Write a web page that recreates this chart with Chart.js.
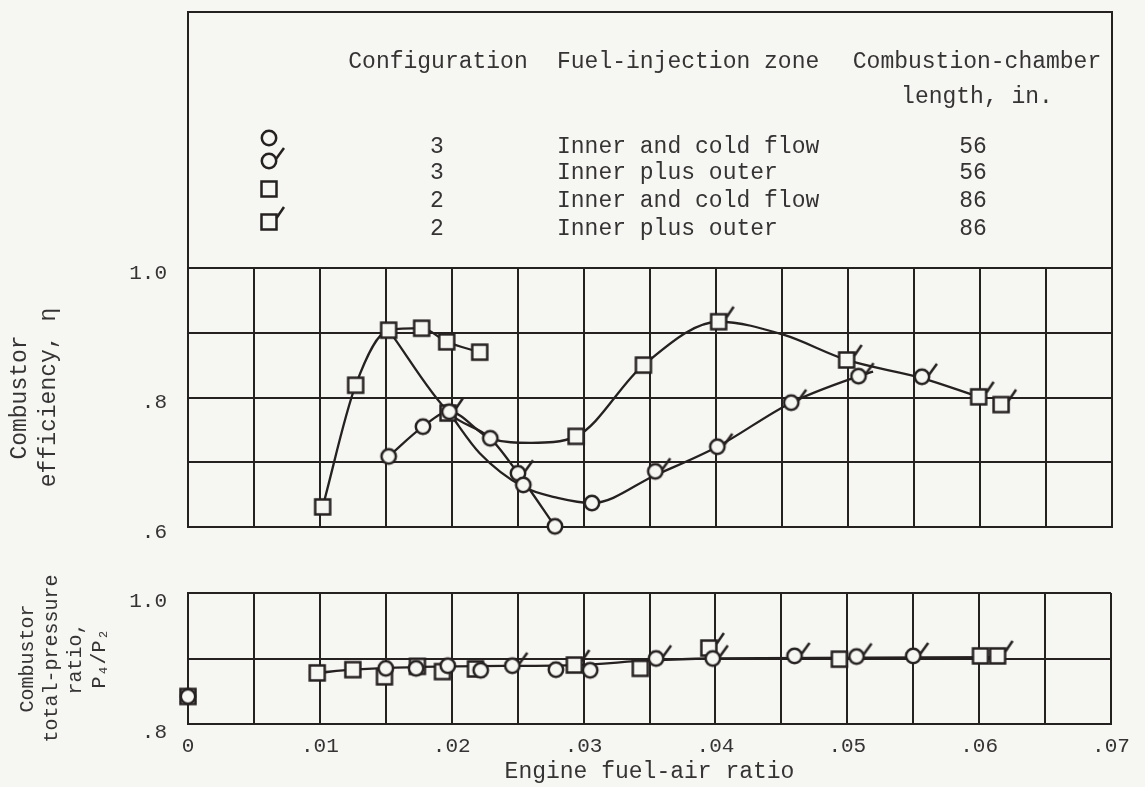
<!DOCTYPE html>
<html>
<head>
<meta charset="utf-8">
<script src="https://cdn.jsdelivr.net/npm/chart.js@4.4.1/dist/chart.umd.min.js"></script>
<style>
  html, body { margin: 0; padding: 0; background: #f6f6f3; }
  #wrap { position: relative; width: 1145px; height: 787px; }
  canvas { position: absolute; left: 0; }
  #effChart { top: 0; }
  #presChart { top: 550px; }
</style>
</head>
<body>
<div id="wrap">
  <canvas id="effChart" width="1145" height="550"></canvas>
  <canvas id="presChart" width="1145" height="237"></canvas>
</div>
<script>
// ---- data: [fuel-air ratio, value] ----
// combustor efficiency
const effCircle     = [[.0152,.709],[.0178,.755],[.0198,.778],[.0229,.737],[.0254,.665],[.0278,.601],[.0306,.637]];
const effCircleFlag = [[.0250,.683],[.0354,.686],[.0401,.724],[.0457,.792],[.0508,.833],[.0556,.832]];
const effSquare     = [[.0102,.631],[.0127,.819],[.0152,.904],[.0177,.907],[.0196,.886],[.0221,.870],[.0294,.740],[.0345,.850]];
const effSquareFlag = [[.0197,.776],[.0402,.917],[.0499,.858],[.0599,.801],[.0616,.789]];
// faired curves as drawn on the figure
const effCurveA = [[.0102,.631],[.0127,.819],[.0152,.904],[.0177,.907],[.0196,.886],[.0221,.870]];
const effCurveB = [[.0152,.904],[.0198,.776],[.0229,.737],[.0250,.683],[.0278,.601]];
const effCurveC = [[.0152,.709],[.0178,.755],[.0198,.778],[.0229,.737],[.0260,.730],[.0294,.740],[.0345,.850],[.0402,.917],[.0451,.897],[.0499,.858],[.0556,.830],[.0599,.801]];
const effCurveD = [[.0198,.776],[.0221,.714],[.0254,.662],[.0280,.645],[.0306,.637],[.0354,.680],[.0401,.724],[.0457,.792],[.0508,.833],[.0519,.840]];

// total-pressure ratio
const presCircle     = [[0,.842],[.0150,.885],[.0173,.885],[.0197,.889],[.0222,.882],[.0279,.883],[.0305,.882]];
const presCircleFlag = [[.0246,.889],[.0355,.900],[.0398,.900],[.0460,.904],[.0507,.903],[.0550,.904]];
const presSquare     = [[0,.842],[.0098,.878],[.0125,.883],[.0149,.872],[.0174,.888],[.0193,.880],[.0218,.884],[.0343,.885],[.0494,.899],[.0601,.904]];
const presSquareFlag = [[.0293,.890],[.0395,.916],[.0614,.904]];
const presCurve = [[.0098,.878],[.0125,.883],[.0200,.888],[.0293,.890],[.0350,.897],[.0395,.900],[.0614,.902]];

// legend table
const legendConfig = ['3', '3', '2', '2'];
const legendZone = ['Inner and cold flow', 'Inner plus outer', 'Inner and cold flow', 'Inner plus outer'];
const legendLength = ['56', '56', '86', '86'];

const ink = '#262121';
const paper = '#f6f6f3';
const textCol = '#353333';
const mono = "'Liberation Mono', 'DejaVu Sans Mono', monospace";

Chart.defaults.font.family = mono;
Chart.defaults.color = textCol;

// marker glyphs (circle / square, with or without flag)
function makeMarker(shape, flag) {
  const c = document.createElement('canvas');
  c.width = 44; c.height = 44;
  const g = c.getContext('2d');
  g.strokeStyle = ink; g.fillStyle = paper; g.lineWidth = 2.5;
  g.beginPath();
  if (shape === 'circle') g.arc(22, 22, 7.2, 0, Math.PI * 2);
  else g.rect(14.5, 14.5, 15, 15);
  g.fill(); g.stroke();
  if (flag) {
    g.beginPath();
    if (shape === 'circle') { g.moveTo(29, 20); g.lineTo(37, 9); }
    else { g.moveTo(29.5, 18); g.lineTo(37, 7); }
    g.stroke();
  }
  return c;
}
const mCircle = makeMarker('circle', false);
const mCircleFlag = makeMarker('circle', true);
const mSquare = makeMarker('square', false);
const mSquareFlag = makeMarker('square', true);

const pts = a => a.map(([x, y]) => ({ x, y }));

function markerSet(data, style) {
  return { data: pts(data), pointStyle: style, pointRadius: 8, showLine: false, order: 1, clip: false };
}
function curveSet(data) {
  return {
    data: pts(data), showLine: true, pointRadius: 0, borderColor: ink, borderWidth: 2.3,
    cubicInterpolationMode: 'monotone', order: 2
  };
}

function xLabel(v) {
  const k = Math.round(v * 1000);
  if (k % 10) return '';
  return k === 0 ? '0' : '.0' + k / 10;
}
function yLabel(v) {
  const k = Math.round(v * 10);
  if (k % 2) return '';
  return k === 10 ? '1.0' : '.' + k;
}

function xAxis(showLabels, height) {
  return {
    type: 'linear', min: 0, max: 0.07,
    grid: { color: ink, lineWidth: 2, drawTicks: false },
    border: { color: ink, width: 2 },
    ticks: { stepSize: 0.005, display: showLabels, autoSkip: false, maxRotation: 0,
      padding: 10, font: { size: 21 }, callback: xLabel },
    title: showLabels ? { display: true, text: 'Engine fuel-air ratio', font: { size: 23, lineHeight: 1.2 },
      padding: { top: 0, bottom: 1 }, color: textCol } : { display: false },
    afterFit: s => { s.height = height; }
  };
}
function yAxis(min, title, titleSize, titleLH, titlePad, labelOffset) {
  return {
    type: 'linear', min: min, max: 1.0,
    grid: { color: ink, lineWidth: 2, drawTicks: false },
    border: { color: ink, width: 2 },
    ticks: { stepSize: 0.1, padding: 21, font: { size: 21 }, callback: yLabel, labelOffset: labelOffset },
    title: { display: true, text: title, font: { size: titleSize, lineHeight: titleLH },
      padding: { top: titlePad, bottom: 0 }, color: textCol },
    afterFit: s => { s.width = 188; s.paddingTop = 0; s.paddingBottom = 0; }
  };
}

// legend table drawn above the efficiency panel
const legendTable = {
  id: 'legendTable',
  afterDraw(chart) {
    const ctx = chart.ctx;
    const a = chart.chartArea;
    ctx.save();
    ctx.strokeStyle = ink; ctx.lineWidth = 2;
    ctx.beginPath();
    ctx.moveTo(a.left, a.top); ctx.lineTo(a.left, 12);
    ctx.lineTo(a.right, 12); ctx.lineTo(a.right, a.top);
    ctx.stroke();
    ctx.fillStyle = textCol;
    ctx.font = '23px ' + mono;
    ctx.textBaseline = 'middle';
    ctx.textAlign = 'center';
    ctx.fillText('Configuration', 438, 62);
    ctx.fillText('Combustion-chamber', 977, 62);
    ctx.fillText('length, in.', 977, 97);
    ctx.textAlign = 'left';
    ctx.fillText('Fuel-injection zone', 557, 62);
    const rowY = [147, 173, 201, 229];
    legendZone.forEach((z, i) => {
      ctx.textAlign = 'center';
      ctx.fillText(legendConfig[i], 437, rowY[i]);
      ctx.fillText(legendLength[i], 973, rowY[i]);
      ctx.textAlign = 'left';
      ctx.fillText(z, 557, rowY[i]);
    });
    const marks = [[mCircle, 138], [mCircleFlag, 161], [mSquare, 189], [mSquareFlag, 222]];
    marks.forEach(([m, y]) => ctx.drawImage(m, 269 - 22, y - 22));
    ctx.restore();
  }
};

new Chart(document.getElementById('effChart'), {
  type: 'scatter',
  data: {
    datasets: [
      markerSet(effCircle, mCircle),
      markerSet(effCircleFlag, mCircleFlag),
      markerSet(effSquare, mSquare),
      markerSet(effSquareFlag, mSquareFlag),
      curveSet(effCurveA), curveSet(effCurveB), curveSet(effCurveC), curveSet(effCurveD)
    ]
  },
  options: {
    responsive: false, animation: false, events: [],
    layout: { padding: { top: 268, right: 33, bottom: 0, left: 0 } },
    plugins: { legend: { display: false }, tooltip: { enabled: false } },
    scales: {
      x: xAxis(false, 23),
      y: yAxis(0.6, ['Combustor', 'efficiency, \u03b7'], 23, 1.27, 5, 5)
    }
  },
  plugins: [legendTable]
});

new Chart(document.getElementById('presChart'), {
  type: 'scatter',
  data: {
    datasets: [
      markerSet(presCircle, mCircle),
      markerSet(presCircleFlag, mCircleFlag),
      markerSet(presSquare, mSquare),
      markerSet(presSquareFlag, mSquareFlag),
      curveSet(presCurve)
    ]
  },
  options: {
    responsive: false, animation: false, events: [],
    layout: { padding: { top: 43, right: 34, bottom: 0, left: 0 } },
    plugins: { legend: { display: false }, tooltip: { enabled: false } },
    scales: {
      x: xAxis(true, 63),
      y: yAxis(0.8, ['Combustor', 'total-pressure', 'ratio,', 'P\u2084/P\u2082'], 20, 1.2, 16, 8)
    }
  }
});
</script>
</body>
</html>
